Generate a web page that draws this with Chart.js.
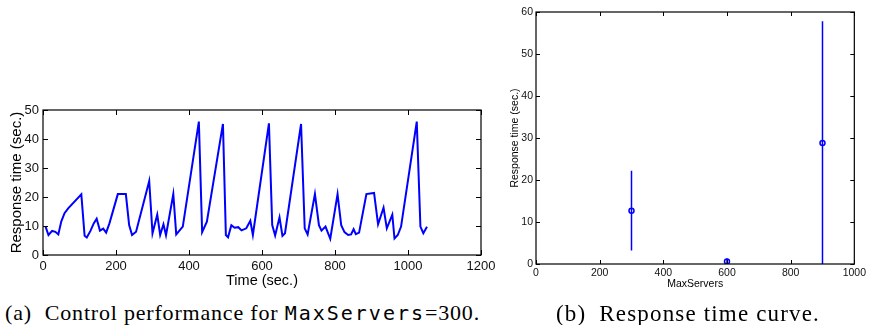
<!DOCTYPE html>
<html>
<head>
<meta charset="utf-8">
<script src="https://cdn.jsdelivr.net/npm/chart.js@4/dist/chart.umd.min.js"></script>
<style>
  html, body { margin: 0; padding: 0; background: #fff; }
  body { width: 869px; height: 325px; position: relative; overflow: hidden; }
  #wrapA { position: absolute; left: 0; top: 95px; width: 500px; height: 200px; }
  #wrapB { position: absolute; left: 490px; top: 0; width: 379px; height: 290px; }
  .cap { position: absolute; top: 302px; font-family: "Liberation Serif", serif; font-size: 22px; line-height: 1; color: #000; white-space: nowrap; }
  .cap tt { font-family: "DejaVu Sans Mono", monospace; font-size: 20px; letter-spacing: 2px; }
  .cap .gap { display: inline-block; width: 13px; }
  #capA { left: 5px; }
  #capB { left: 556px; font-size: 23px; }
</style>
</head>
<body>
<div id="wrapA"><canvas id="chartA"></canvas></div>
<div id="wrapB"><canvas id="chartB"></canvas></div>
<div class="cap" id="capA">(a)<span class="gap"></span>Control performance for <tt>MaxServers</tt>=300.</div>
<div class="cap" id="capB">(b)<span class="gap"></span>Response time curve.</div>
<script>
// (a) response time over time, MaxServers=300
const timeSec = [7, 15, 25, 34, 42, 50, 59, 69, 105, 114, 120, 130, 139, 147, 156, 165, 173, 182,
  205, 227, 236, 244, 255, 291, 300, 313, 321, 330, 337, 357, 365, 383, 427, 436, 449, 493, 501,
  507, 516, 525, 535, 544, 557, 568, 575, 619, 628, 636, 648, 656, 663, 707, 717, 725, 745, 756,
  763, 774, 787, 807, 817, 826, 836, 844, 851, 857, 866, 886, 907, 918, 933, 942, 957, 963, 972,
  981, 1024, 1034, 1042, 1052];
const respTime = [9.8, 6.9, 8.3, 8.0, 7.1, 11.5, 14.4, 16.1, 20.9, 6.6, 6.0, 8.3, 10.9, 12.5, 8.4, 9.1, 7.7, 10.9,
  21.0, 21.0, 10.3, 6.9, 8.0, 25.5, 7.5, 13.9, 6.9, 10.6, 6.8, 21.0, 7.1, 9.8, 46.0, 7.9, 11.5, 45.2, 6.9,
  6.1, 10.3, 9.4, 9.6, 8.5, 9.2, 11.8, 6.9, 45.4, 10.3, 6.7, 13.0, 6.6, 7.5, 45.2, 9.2, 7.1, 21.0, 10.3,
  8.4, 9.8, 5.6, 21.0, 10.3, 7.9, 6.9, 7.1, 8.9, 7.2, 7.7, 21.0, 21.4, 10.6, 16.3, 9.2, 13.9, 5.7, 6.9,
  9.8, 46.0, 9.8, 7.5, 9.7];

// (b) response time vs MaxServers, mean with error bars
const maxServers = [300, 600, 900];
const meanResp = [12.7, 0.6, 28.8];
const errLow = [3.2, 0.0, 0.0];
const errHigh = [22.2, 1.3, 57.8];

const sans = '"Liberation Sans", Arial, sans-serif';

// matlab-like box with inward ticks on all four sides
const boxTicks = {
  id: 'boxTicks',
  afterDraw(chart, args, opts) {
    const ctx = chart.ctx;
    const a = chart.chartArea;
    const len = opts.len || 5;
    ctx.save();
    ctx.strokeStyle = '#000';
    ctx.lineWidth = opts.width || 1;
    ctx.beginPath();
    chart.scales.x.ticks.forEach(t => {
      const px = Math.round(chart.scales.x.getPixelForValue(t.value)) + 0.5;
      ctx.moveTo(px, a.bottom); ctx.lineTo(px, a.bottom - len);
      ctx.moveTo(px, a.top); ctx.lineTo(px, a.top + len);
    });
    chart.scales.y.ticks.forEach(t => {
      const py = Math.round(chart.scales.y.getPixelForValue(t.value)) + 0.5;
      ctx.moveTo(a.left, py); ctx.lineTo(a.left + len, py);
      ctx.moveTo(a.right, py); ctx.lineTo(a.right - len, py);
    });
    ctx.stroke();
    ctx.lineWidth = opts.border || 1;
    ctx.strokeRect(a.left, a.top, a.right - a.left, a.bottom - a.top);
    ctx.restore();
  }
};

function axisBase(min, max, step, size, titleText, titleSize, fixSize, isY, tickPad, titlePad) {
  return {
    type: 'linear',
    min: min, max: max,
    border: { display: false },
    grid: { display: false, drawTicks: false },
    ticks: {
      stepSize: step,
      color: '#111',
      font: { family: sans, size: size },
      padding: tickPad,
      maxRotation: 0,
      autoSkip: false,
      callback: v => String(v)
    },
    title: {
      display: true,
      text: titleText,
      color: '#000',
      font: { family: sans, size: titleSize },
      padding: titlePad
    },
    afterFit(scale) {
      if (isY) scale.width = fixSize; else scale.height = fixSize;
    }
  };
}

new Chart(document.getElementById('chartA'), {
  type: 'line',
  data: {
    datasets: [{
      data: timeSec.map((t, i) => ({ x: t, y: respTime[i] })),
      borderColor: '#0000ff',
      borderWidth: 2,
      pointRadius: 0,
      tension: 0,
      fill: false
    }]
  },
  options: {
    responsive: true,
    maintainAspectRatio: false,
    animation: false,
    layout: { padding: { left: 0, right: 19, top: 15, bottom: 0 } },
    plugins: { legend: { display: false }, tooltip: { enabled: false }, boxTicks: { len: 5, border: 1.2 } },
    scales: {
      x: axisBase(0, 1200, 200, 13, 'Time (sec.)', 14.5, 40, false, 4, { top: 0, bottom: 5 }),
      y: axisBase(0, 50, 10, 13, 'Response time (sec.)', 15, 43, true, 4, { top: 8, bottom: 0 })
    }
  },
  plugins: [boxTicks]
});

const errSets = maxServers.map((m, i) => ({
  type: 'line',
  data: [{ x: m, y: errLow[i] }, { x: m, y: errHigh[i] }],
  borderColor: '#0000ff',
  borderWidth: 1.5,
  pointRadius: 0,
  fill: false
}));

new Chart(document.getElementById('chartB'), {
  type: 'scatter',
  data: {
    datasets: errSets.concat([{
      type: 'scatter',
      data: maxServers.map((m, i) => ({ x: m, y: meanResp[i] })),
      borderColor: '#0000ff',
      backgroundColor: 'rgba(0,0,0,0)',
      borderWidth: 1.5,
      pointRadius: 2.5
    }])
  },
  options: {
    responsive: true,
    maintainAspectRatio: false,
    animation: false,
    layout: { padding: { left: 0, right: 12, top: 12, bottom: 0 } },
    plugins: { legend: { display: false }, tooltip: { enabled: false }, boxTicks: { len: 4, border: 1.2 } },
    scales: {
      x: axisBase(0, 1000, 200, 10.5, 'MaxServers', 10.5, 26, false, 3, { top: 0, bottom: 0 }),
      y: axisBase(0, 60, 10, 10.5, 'Response time (sec.)', 10.5, 46, true, 3, { top: 19, bottom: 0 })
    }
  },
  plugins: [boxTicks]
});

// stretch each caption to the width it has in the figure
function fitCaption(id, target) {
  const el = document.getElementById(id);
  const n = el.textContent.length;
  const w = el.getBoundingClientRect().width;
  el.style.letterSpacing = ((target - w) / n) + 'px';
}
fitCaption('capA', 483);
fitCaption('capB', 264);
</script>
</body>
</html>
